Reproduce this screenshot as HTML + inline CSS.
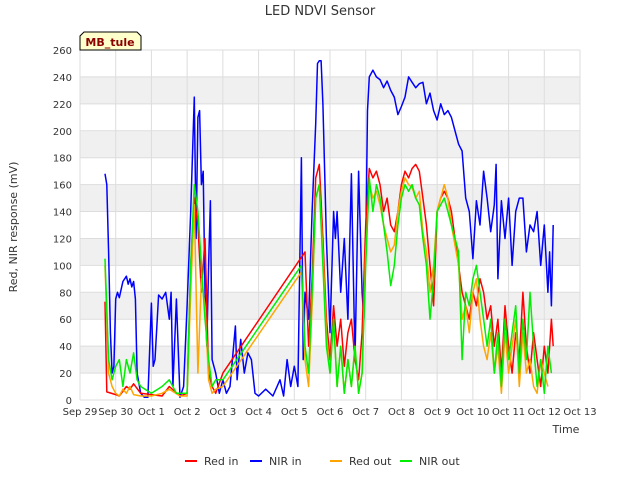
<!DOCTYPE html>
<html><head><meta charset="utf-8"><style>
body{margin:0;background:#fff;}
svg{display:block;font-family:"DejaVu Sans","Liberation Sans",sans-serif;}
</style></head><body>
<svg id="chart" width="640" height="480">
<text x="320" y="15" text-anchor="middle" font-size="13" fill="#333">LED NDVI Sensor</text>
<g id="grid"></g>
<g id="axes"></g>
<g id="series"></g>
<g>
<path d="M80,50 L80,36 L84,32 L137,32 L141,36 L141,50 Z" fill="#ffffcc" stroke="#000" stroke-width="1"/>
<text x="110" y="46" text-anchor="middle" font-size="11" font-weight="bold" fill="#8b0000">MB_tule</text>
</g>
<text transform="translate(17,227) rotate(-90)" text-anchor="middle" font-size="11" fill="#333">Red, NIR response (mV)</text>
<text x="566" y="433" text-anchor="middle" font-size="11" fill="#333">Time</text>
<g id="legend"></g>
</svg>
<script>
const xTicks=["Sep 29","Sep 30","Oct 1","Oct 2","Oct 3","Oct 4","Oct 5","Oct 6","Oct 7","Oct 8","Oct 9","Oct 10","Oct 11","Oct 12","Oct 13"];
const yTicks=[0,20,40,60,80,100,120,140,160,180,200,220,240,260];
const seriesNames=["Red in","NIR in","Red out","NIR out"];
const seriesColors=["#ff0000","#0000ff","#ffa500","#00ee00"];
const nirInT=[0.7,0.75,0.8,0.85,0.9,0.95,1.0,1.05,1.1,1.2,1.3,1.35,1.4,1.45,1.5,1.55,1.6,1.7,1.8,1.9,2.0,2.05,2.1,2.2,2.3,2.4,2.5,2.55,2.6,2.7,2.8,2.9,3.0,3.1,3.2,3.25,3.3,3.35,3.4,3.45,3.5,3.55,3.6,3.65,3.7,3.8,3.9,4.0,4.1,4.2,4.3,4.35,4.4,4.5,4.6,4.7,4.8,4.9,5.0,5.2,5.4,5.6,5.7,5.8,5.9,6.0,6.1,6.2,6.25,6.3,6.4,6.5,6.6,6.65,6.7,6.75,6.8,6.9,7.0,7.1,7.15,7.2,7.3,7.4,7.5,7.6,7.7,7.8,7.9,7.95,8.0,8.05,8.1,8.2,8.3,8.4,8.5,8.6,8.7,8.8,8.9,9.0,9.1,9.2,9.3,9.4,9.5,9.6,9.7,9.8,9.9,10.0,10.1,10.2,10.3,10.4,10.5,10.6,10.7,10.8,10.9,11.0,11.1,11.2,11.3,11.4,11.5,11.6,11.65,11.7,11.8,11.9,12.0,12.1,12.2,12.3,12.4,12.5,12.6,12.7,12.8,12.9,13.0,13.1,13.15,13.2,13.25];
const nirInV=[168,160,110,50,20,25,75,80,76,88,92,86,90,84,88,75,20,5,2,2,72,25,30,78,75,80,60,80,10,75,2,10,70,140,225,120,210,215,160,170,80,40,100,148,30,20,5,15,5,10,40,55,15,45,20,35,30,5,3,8,3,15,3,30,10,25,10,180,30,80,60,140,205,250,252,252,220,120,50,140,120,140,80,120,60,168,30,170,80,60,110,215,240,245,240,238,232,237,230,225,212,218,225,240,236,232,235,236,220,228,215,208,220,212,215,210,200,190,185,150,140,105,148,130,170,150,125,145,175,90,148,120,150,100,140,150,150,110,130,125,140,100,130,80,110,70,130,120];
const redInT=[0.7,0.75,1.0,1.1,1.3,1.4,1.5,1.7,2.0,2.3,2.5,2.8,3.0,3.1,3.2,3.3,3.4,3.5,3.6,3.7,3.8,4.0,6.3,6.4,6.5,6.6,6.7,6.8,6.9,7.0,7.1,7.2,7.3,7.4,7.5,7.6,7.7,7.8,7.9,8.0,8.1,8.2,8.3,8.4,8.5,8.6,8.7,8.8,8.9,9.0,9.1,9.2,9.3,9.4,9.5,9.6,9.7,9.8,9.9,10.0,10.1,10.2,10.3,10.4,10.5,10.6,10.7,10.8,10.9,11.0,11.1,11.2,11.3,11.4,11.5,11.6,11.7,11.8,11.9,12.0,12.1,12.2,12.3,12.4,12.5,12.6,12.7,12.8,12.9,13.0,13.1,13.2,13.25];
const redInV=[73,6,4,3,10,8,12,5,4,3,10,3,5,100,150,130,80,120,20,10,5,20,110,40,90,165,175,120,60,30,70,40,60,25,50,60,30,15,50,130,172,165,170,160,140,150,130,125,140,160,170,165,172,175,170,150,130,100,70,140,150,155,150,140,120,100,80,70,60,80,70,90,80,60,70,40,60,20,70,40,20,50,30,80,40,20,50,30,10,40,20,60,40];
const redOutT=[0.7,0.8,0.9,1.0,1.1,1.2,1.3,1.4,1.5,1.7,2.0,2.3,2.5,2.8,3.0,3.1,3.2,3.3,3.4,3.5,3.6,3.7,3.8,4.0,6.2,6.3,6.4,6.5,6.6,6.7,6.8,6.9,7.0,7.1,7.2,7.3,7.4,7.5,7.6,7.7,7.8,7.9,8.0,8.1,8.2,8.3,8.4,8.5,8.6,8.7,8.8,8.9,9.0,9.1,9.2,9.3,9.4,9.5,9.6,9.7,9.8,9.9,10.0,10.1,10.2,10.3,10.4,10.5,10.6,10.7,10.8,10.9,11.0,11.1,11.2,11.3,11.4,11.5,11.6,11.7,11.8,11.9,12.0,12.1,12.2,12.3,12.4,12.5,12.6,12.7,12.8,12.9,13.0,13.1,13.2];
const redOutV=[100,20,10,5,3,8,5,10,4,3,3,5,8,3,3,80,145,20,90,70,15,5,8,10,95,30,10,70,150,160,110,50,20,60,10,40,5,30,10,40,5,20,110,160,150,155,145,130,120,110,115,140,155,165,160,158,150,155,125,110,80,100,140,150,160,150,130,115,100,60,70,50,80,90,60,40,30,50,20,40,5,50,20,40,60,10,50,20,30,10,5,30,20,10];
const nirOutT=[0.7,0.8,0.9,1.0,1.1,1.2,1.3,1.4,1.5,1.6,1.7,2.0,2.3,2.5,2.7,3.0,3.1,3.2,3.3,3.4,3.5,3.6,3.7,3.8,4.0,6.2,6.3,6.4,6.5,6.6,6.7,6.8,6.9,7.0,7.1,7.2,7.3,7.4,7.5,7.6,7.7,7.8,7.9,8.0,8.1,8.2,8.3,8.4,8.5,8.6,8.7,8.8,8.9,9.0,9.1,9.2,9.3,9.4,9.5,9.6,9.7,9.8,9.9,10.0,10.1,10.2,10.3,10.4,10.5,10.6,10.7,10.8,10.9,11.0,11.1,11.2,11.3,11.4,11.5,11.6,11.7,11.8,11.9,12.0,12.1,12.2,12.3,12.4,12.5,12.6,12.7,12.8,12.9,13.0,13.1,13.2];
const nirOutV=[105,30,15,25,30,10,30,20,35,15,10,5,10,15,5,5,100,160,140,100,60,30,10,15,15,100,40,20,80,150,160,100,40,20,60,10,40,5,30,10,40,5,20,100,165,140,160,150,130,110,85,100,130,150,160,155,160,150,145,120,100,60,90,140,145,150,140,130,120,110,30,80,70,90,100,80,60,40,60,20,50,10,60,30,50,70,20,60,30,80,40,10,30,5,40,20];

const NS="http://www.w3.org/2000/svg";
const X0=80,X1=580,Y0=400,Y1=50;
const xs=d=>X0+(X1-X0)*d/14;
const ys=v=>Y0-(Y0-Y1)*v/260;
function mk(tag,attrs,parent,text){const e=document.createElementNS(NS,tag);for(const k in attrs)e.setAttribute(k,attrs[k]);if(text!==undefined)e.textContent=text;parent.appendChild(e);return e;}
const grid=document.getElementById('grid'),axes=document.getElementById('axes');
for(let i=0;i<yTicks.length-1;i++){
  if(i%2===1){const b=mk('rect',{x:X0,y:ys(yTicks[i+1]),width:X1-X0,height:ys(yTicks[i])-ys(yTicks[i+1]),fill:'#f0f0f0'},grid);
  
  }
}
yTicks.forEach(v=>{
  const l=mk('line',{x1:X0,x2:X1,y1:ys(v),y2:ys(v),stroke:'#ddd','stroke-width':1},grid);
  
  
  const t=mk('text',{x:X0-8,y:ys(v)+4,'text-anchor':'end','font-size':10,fill:'#333'},axes,v);
  
  
});
xTicks.forEach((s,i)=>{
  const l=mk('line',{x1:xs(i),x2:xs(i),y1:Y1,y2:Y0,stroke:'#ddd','stroke-width':1},grid);
  
  
  const t=mk('text',{x:xs(i),y:Y0+15,'text-anchor':'middle','font-size':10,fill:'#333'},axes,s);
  
  
});
const ser=document.getElementById('series');
const data=[[redInT,redInV],[nirInT,nirInV],[redOutT,redOutV],[nirOutT,nirOutV]];
const order=[0,2,3,1];
[1,0,2,3].forEach(i=>{
  const [T,V]=data[i];
  const p=mk('polyline',{points:T.map((t,j)=>xs(t).toFixed(1)+','+ys(V[j]).toFixed(1)).join(' '),fill:'none',stroke:seriesColors[i],'stroke-width':1.5,'stroke-linejoin':'round'},ser);
  
  
});
const lg=document.getElementById('legend');
const lx=[185,250,330,400];
seriesNames.forEach((n,i)=>{
  const g=mk('g',{},lg);
  
  
  mk('line',{x1:lx[i],x2:lx[i]+12,y1:461,y2:461,stroke:seriesColors[i],'stroke-width':2},g);
  mk('text',{x:lx[i]+19,y:465,'font-size':11,fill:'#333'},g,n);
});
</script>
</body></html>
